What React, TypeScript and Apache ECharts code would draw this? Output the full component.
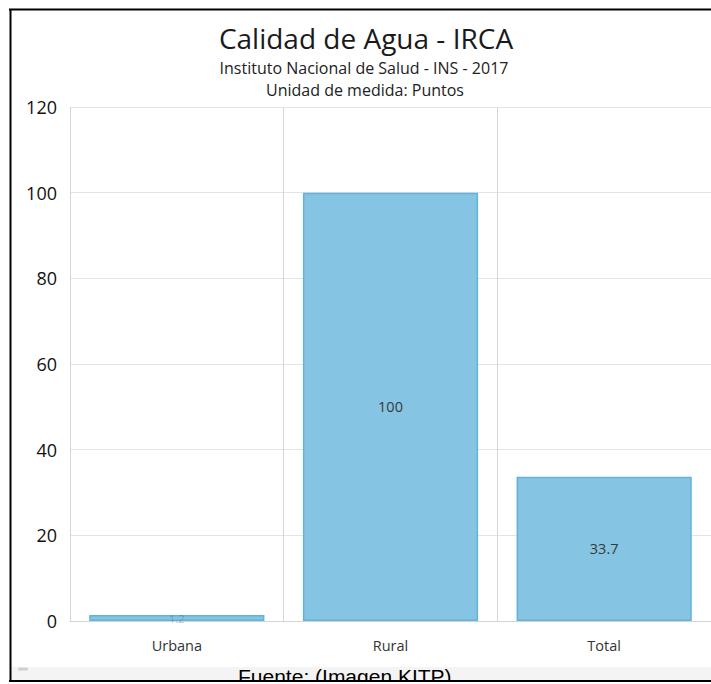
import React, { useEffect, useRef } from "react";
import * as echarts from "echarts";

const categories = ["Urbana", "Rural", "Total"];
const values = [1.4, 100, 33.7];
const labels = ["1.2", "100", "33.7"];
const yTicks = [0, 20, 40, 60, 80, 100, 120];

const titleText = "Calidad de Agua - IRCA";
const subtitle1 = "Instituto Nacional de Salud - INS - 2017";
const subtitle2 = "Unidad de medida: Puntos";
const sourceText = "Fuente: (Imagen KITP)";

export default function App() {
  const ref = useRef<HTMLDivElement>(null);
  useEffect(() => {
    if (!ref.current) return;
    const chart = echarts.init(ref.current, null, { renderer: "svg" });
    const font = "'Open Sans', 'Noto Sans', sans-serif";
    chart.setOption({
      animation: false,
      backgroundColor: "#ffffff",
      title: [
        { text: titleText, left: 361, top: 19, textAlign: "center",
          textStyle: { fontFamily: font, fontWeight: "normal", fontSize: 28, color: "#1a1a1a" } },
        { text: subtitle1, left: 359, top: 55, textAlign: "center",
          textStyle: { fontFamily: font, fontWeight: "normal", fontSize: 16, color: "#222" } },
        { text: subtitle2, left: 360, top: 77, textAlign: "center",
          textStyle: { fontFamily: font, fontWeight: "normal", fontSize: 16, color: "#222" } },
      ],
      grid: { left: 70, top: 107, width: 643, height: 514, containLabel: false },
      xAxis: {
        type: "category",
        data: categories,
        boundaryGap: true,
        axisLine: { show: true, lineStyle: { color: "#d4d4d4", width: 1 } },
        axisTick: { show: false },
        splitLine: { show: true, lineStyle: { color: "#d6d6d6", width: 1 } },
        axisLabel: { fontFamily: font, fontSize: 14.5, color: "#333", margin: 17, interval: 0 },
      },
      yAxis: {
        type: "value",
        min: yTicks[0],
        max: yTicks[yTicks.length - 1],
        interval: 20,
        axisLine: { show: false },
        axisTick: { show: false },
        splitLine: { show: true, lineStyle: { color: "#e4e4e4", width: 1 } },
        axisLabel: { fontFamily: font, fontSize: 18, color: "#111", margin: 13 },
      },
      series: [
        {
          type: "bar",
          data: values.map((v, i) => ({
            value: v,
            label: i === 0
              ? { formatter: labels[i], color: "rgba(80,80,80,0.35)", fontSize: 11 }
              : { formatter: labels[i] },
          })),
          barCategoryGap: "18%",
          itemStyle: { color: "#85C4E3", borderColor: "#62B3DB", borderWidth: 1.5 },
          label: { show: true, position: "inside", fontFamily: font, fontSize: 14.5, color: "#3a3a3a" },
        },
      ],
      graphic: [
        { type: "rect", shape: { x: 10, y: 667, width: 701, height: 14 }, style: { fill: "#f4f4f4" }, z: 40 },
        { type: "rect", shape: { x: 18, y: 667.5, width: 10, height: 3, r: 1.5 }, style: { fill: "#cfcfcf" }, z: 50 },
        { type: "text", left: 238, top: 666,
          style: { text: sourceText, fontFamily: "'Liberation Sans', Arial, sans-serif", fontSize: 21, fill: "#000" }, z: 60 },
        { type: "rect", shape: { x: 0, y: 681, width: 711, height: 10 }, style: { fill: "#ffffff" }, z: 70 },
        { type: "line", shape: { x1: 9, y1: 9.5, x2: 711, y2: 9.5 }, style: { stroke: "#000", lineWidth: 2 }, z: 80 },
        { type: "line", shape: { x1: 10.5, y1: 9, x2: 10.5, y2: 682 }, style: { stroke: "#000", lineWidth: 2 }, z: 80 },
        { type: "line", shape: { x1: 9, y1: 681, x2: 711, y2: 681 }, style: { stroke: "#000", lineWidth: 2 }, z: 80 },
      ],
    });
    return () => chart.dispose();
  }, []);
  return <div ref={ref} style={{ position: "fixed", left: 0, top: 0, width: 711, height: 684 }} />;
}
